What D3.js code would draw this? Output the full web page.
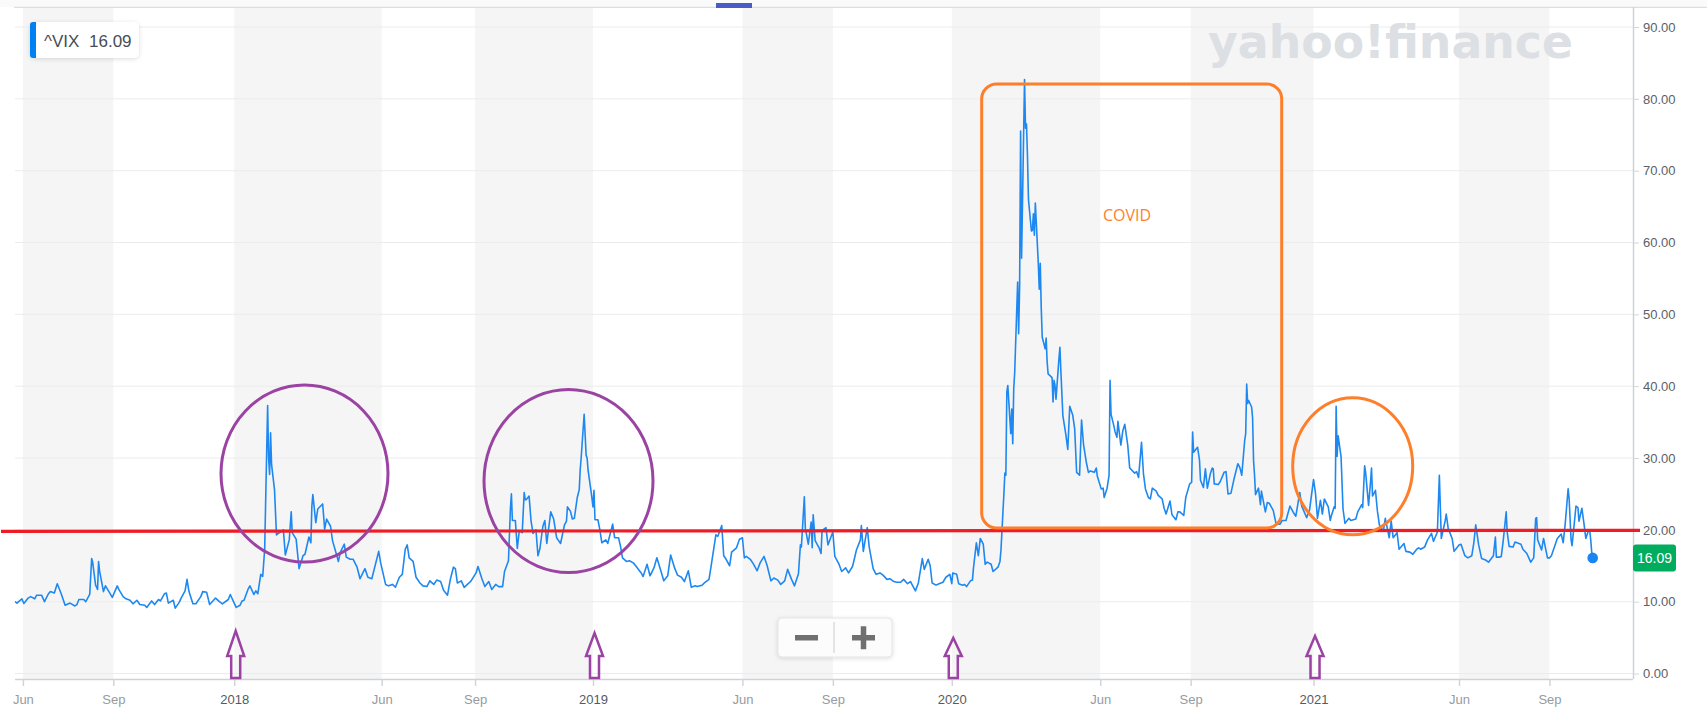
<!DOCTYPE html>
<html>
<head>
<meta charset="utf-8">
<script src="https://cdn.jsdelivr.net/npm/d3@7"></script>
<style>
  body { margin: 0; background: #fff; }
  svg { display: block; font-family: "Liberation Sans", Arial, sans-serif; }
</style>
</head>
<body>
<div id="chart"></div>
<script>
// ^VIX daily closes, one small array per year ("MM-DD", value)
var vix2017 = [["05-24",10.0],["05-26",9.8],["05-31",10.4],["06-02",9.75],["06-06",10.45],["06-09",10.7],["06-13",10.4],["06-15",10.9],["06-20",10.9],["06-23",10.0],["06-27",11.1],["06-29",11.4],["07-03",11.2],["07-06",12.5],["07-10",11.1],["07-14",9.5],["07-19",9.8],["07-24",9.4],["07-26",9.6],["07-28",10.3],["08-02",10.3],["08-04",10.0],["08-08",11.0],["08-10",16.0],["08-11",15.5],["08-14",12.3],["08-16",11.7],["08-17",15.6],["08-18",14.3],["08-22",11.4],["08-24",12.2],["08-28",11.3],["08-31",10.6],["09-05",12.2],["09-07",11.6],["09-11",10.7],["09-14",10.4],["09-18",10.2],["09-21",9.7],["09-25",10.2],["09-28",9.6],["10-03",9.5],["10-05",9.2],["10-10",10.1],["10-13",9.6],["10-17",10.3],["10-19",10.1],["10-23",11.1],["10-25",11.2],["10-27",9.8],["11-01",10.2],["11-03",9.1],["11-07",9.9],["11-09",10.5],["11-13",11.5],["11-15",13.1],["11-17",11.4],["11-21",9.7],["11-24",9.7],["11-29",10.7],["12-01",11.4],["12-05",11.3],["12-08",9.6],["12-12",10.2],["12-14",10.5],["12-18",10.0],["12-21",9.7],["12-27",10.3],["12-29",11.0]];
var vix2018 = [["01-02",9.8],["01-04",9.2],["01-08",9.5],["01-10",10.1],["01-12",10.2],["01-16",11.7],["01-18",12.2],["01-22",11.0],["01-24",11.5],["01-26",11.1],["01-29",13.8],["01-31",13.5],["02-02",17.3],["02-05",37.3],["02-06",30.0],["02-07",27.7],["02-08",33.5],["02-09",29.1],["02-12",25.6],["02-14",19.3],["02-16",19.5],["02-21",20.0],["02-23",16.5],["02-27",18.6],["03-01",22.5],["03-02",19.6],["03-06",18.7],["03-09",14.6],["03-13",16.4],["03-15",16.6],["03-19",19.0],["03-21",18.2],["03-22",23.3],["03-23",24.9],["03-26",21.0],["03-28",22.9],["04-02",23.6],["04-04",20.1],["04-06",21.5],["04-10",20.5],["04-12",18.5],["04-16",16.6],["04-18",15.6],["04-20",16.9],["04-24",18.0],["04-26",16.2],["04-30",15.9],["05-03",15.9],["05-07",14.8],["05-10",13.2],["05-15",14.6],["05-18",13.4],["05-22",13.2],["05-29",17.0],["05-31",15.4],["06-05",12.4],["06-08",12.2],["06-12",12.4],["06-15",12.0],["06-19",13.4],["06-22",13.8],["06-25",17.3],["06-27",17.9],["06-29",16.1],["07-03",15.6],["07-06",13.4],["07-10",12.6],["07-13",12.2],["07-17",12.1],["07-20",12.9],["07-24",12.4],["07-27",13.0],["07-31",12.8],["08-03",11.6],["08-07",10.9],["08-10",13.2],["08-13",14.8],["08-15",14.6],["08-17",12.6],["08-21",12.9],["08-24",12.0],["08-28",12.5],["08-31",12.9],["09-05",14.0],["09-07",14.9],["09-11",13.2],["09-14",12.1],["09-18",12.8],["09-21",11.7],["09-25",12.4],["09-28",12.1],["10-02",12.1],["10-04",14.2],["10-08",15.7],["10-10",23.0],["10-11",25.0],["10-12",21.3],["10-15",21.3],["10-17",17.4],["10-19",19.9],["10-22",19.6],["10-24",25.2],["10-25",24.2],["10-26",24.2],["10-29",24.7],["10-31",21.2],["11-02",19.5],["11-05",20.0],["11-07",16.4],["11-09",17.4],["11-12",20.5],["11-14",21.3],["11-16",18.1],["11-20",22.5],["11-23",21.5],["11-26",18.9],["11-28",18.5],["11-30",18.1],["12-04",20.7],["12-06",21.2],["12-07",23.2],["12-10",22.6],["12-12",21.5],["12-14",21.6],["12-17",24.5],["12-19",25.6],["12-20",28.4],["12-21",30.1],["12-24",36.1],["12-26",30.4],["12-27",30.0],["12-28",28.3],["12-31",25.4]];
var vix2019 = [["01-02",23.2],["01-03",25.5],["01-04",21.4],["01-07",21.4],["01-09",20.0],["01-11",18.2],["01-15",18.6],["01-17",18.1],["01-22",20.8],["01-24",18.9],["01-28",18.9],["01-30",17.7],["02-01",16.1],["02-05",15.6],["02-08",15.7],["02-12",15.4],["02-15",14.9],["02-20",14.0],["02-22",13.5],["02-26",15.2],["03-01",13.6],["03-05",14.7],["03-08",16.1],["03-12",14.3],["03-15",12.9],["03-19",13.6],["03-22",16.5],["03-26",14.7],["03-29",13.7],["04-02",13.4],["04-05",12.8],["04-09",14.3],["04-12",12.0],["04-16",12.2],["04-18",12.1],["04-23",12.3],["04-26",12.7],["04-30",13.1],["05-02",14.8],["05-07",19.3],["05-09",19.1],["05-13",20.6],["05-15",16.4],["05-17",16.0],["05-21",15.0],["05-23",16.9],["05-28",17.5],["05-31",18.7],["06-03",18.9],["06-05",16.1],["06-07",16.3],["06-11",15.9],["06-14",15.3],["06-18",14.3],["06-21",15.4],["06-25",16.3],["06-28",15.1],["07-02",12.9],["07-05",13.3],["07-09",13.0],["07-12",12.4],["07-16",12.9],["07-19",14.5],["07-23",13.1],["07-26",12.2],["07-30",13.9],["08-01",17.9],["08-02",17.6],["08-05",24.6],["08-06",20.2],["08-07",19.5],["08-09",18.0],["08-12",21.1],["08-13",17.5],["08-14",22.1],["08-16",18.5],["08-20",17.5],["08-22",16.7],["08-23",19.9],["08-27",20.3],["08-29",17.9],["09-03",19.7],["09-05",16.3],["09-09",15.3],["09-12",14.2],["09-16",14.7],["09-19",14.0],["09-23",14.9],["09-25",16.0],["09-27",17.2],["10-01",18.6],["10-02",20.6],["10-04",17.0],["10-08",20.3],["10-10",17.6],["10-14",14.6],["10-17",13.8],["10-21",14.0],["10-24",13.7],["10-28",13.1],["10-31",13.2],["11-04",12.8],["11-07",12.7],["11-11",12.7],["11-14",13.1],["11-18",12.5],["11-21",12.8],["11-26",11.5],["11-29",12.6],["12-03",16.0],["12-05",14.5],["12-09",15.9],["12-11",15.0],["12-13",12.6],["12-17",12.3],["12-20",12.5],["12-24",12.7],["12-27",13.4],["12-31",13.8]];
var vix2020 = [["01-02",12.5],["01-03",14.0],["01-07",13.8],["01-09",12.5],["01-13",12.3],["01-15",12.4],["01-17",12.1],["01-21",12.9],["01-23",13.0],["01-24",14.6],["01-27",18.2],["01-29",16.4],["01-31",18.8],["02-03",18.0],["02-05",15.2],["02-07",15.5],["02-11",15.2],["02-13",14.2],["02-18",14.8],["02-20",15.6],["02-21",17.1],["02-24",25.0],["02-25",27.9],["02-26",27.6],["02-27",39.2],["02-28",40.1],["03-02",33.4],["03-03",36.8],["03-04",32.0],["03-05",39.6],["03-06",41.9],["03-09",54.5],["03-10",47.3],["03-11",53.9],["03-12",75.5],["03-13",57.8],["03-16",82.7],["03-17",75.9],["03-18",76.5],["03-19",72.0],["03-20",66.0],["03-23",61.6],["03-24",61.7],["03-25",64.0],["03-26",61.0],["03-27",65.5],["03-30",57.1],["03-31",53.5],["04-01",57.1],["04-02",50.9],["04-03",46.8],["04-06",45.2],["04-07",46.7],["04-08",43.4],["04-09",41.7],["04-13",41.2],["04-14",37.8],["04-15",40.8],["04-16",40.1],["04-17",38.2],["04-20",43.8],["04-21",45.4],["04-22",42.0],["04-24",35.9],["04-27",33.3],["04-29",31.2],["05-01",37.2],["05-04",36.0],["05-06",34.1],["05-08",28.0],["05-11",27.6],["05-13",35.3],["05-15",31.9],["05-18",29.3],["05-20",28.0],["05-22",28.2],["05-26",28.0],["05-28",28.6],["05-29",27.5],["06-02",25.7],["06-04",25.8],["06-05",24.5],["06-08",25.8],["06-10",27.6],["06-11",40.8],["06-12",36.1],["06-15",34.4],["06-16",33.7],["06-18",32.9],["06-19",35.1],["06-22",31.8],["06-24",33.8],["06-26",34.7],["06-29",31.8],["07-01",28.6],["07-06",27.9],["07-08",28.1],["07-10",27.3],["07-13",32.2],["07-15",27.8],["07-17",25.7],["07-20",24.5],["07-22",24.3],["07-24",25.8],["07-28",25.4],["07-30",24.8],["08-03",24.3],["08-05",23.0],["08-07",22.2],["08-11",24.0],["08-13",22.1],["08-17",21.4],["08-19",22.5],["08-21",22.5],["08-25",22.0],["08-27",24.5],["08-31",26.4],["09-02",26.6],["09-03",33.6],["09-04",30.8],["09-08",31.5],["09-10",29.7],["09-11",26.9],["09-14",25.9],["09-16",28.5],["09-18",25.8],["09-21",27.8],["09-23",28.6],["09-24",28.5],["09-25",26.4],["09-29",26.3],["10-01",26.7],["10-05",28.0],["10-07",28.1],["10-09",25.0],["10-12",25.1],["10-15",27.0],["10-19",29.2],["10-21",28.7],["10-23",27.6],["10-26",32.5],["10-27",33.4],["10-28",40.3],["10-29",37.6],["10-30",38.0],["11-02",37.1],["11-03",35.6],["11-04",29.6],["11-05",27.6],["11-06",24.9],["11-09",25.8],["11-11",23.5],["11-12",25.4],["11-16",22.5],["11-18",23.8],["11-20",23.7],["11-24",22.7],["11-27",20.8],["12-01",20.8],["12-03",21.3],["12-07",21.3],["12-09",22.3],["12-11",23.3],["12-15",22.3],["12-17",21.9],["12-21",25.2],["12-23",23.3],["12-28",21.7],["12-31",22.8]];
var vix2021 = [["01-04",27.0],["01-06",25.1],["01-08",21.6],["01-11",24.1],["01-13",22.2],["01-15",24.3],["01-19",23.2],["01-21",21.3],["01-22",21.9],["01-25",23.2],["01-26",23.0],["01-27",37.2],["01-28",30.2],["01-29",33.1],["02-01",30.2],["02-03",22.9],["02-05",20.9],["02-09",21.6],["02-11",21.3],["02-16",21.5],["02-18",22.5],["02-22",23.5],["02-23",23.1],["02-25",28.9],["02-26",28.0],["03-01",23.4],["03-03",26.7],["03-04",28.6],["03-05",24.7],["03-08",25.5],["03-10",22.6],["03-12",20.7],["03-16",19.8],["03-18",21.6],["03-22",18.9],["03-24",21.2],["03-26",18.9],["03-30",19.6],["04-01",17.3],["04-06",18.1],["04-08",17.0],["04-12",16.9],["04-15",16.6],["04-19",17.3],["04-21",17.5],["04-23",17.3],["04-27",17.6],["04-30",18.6],["05-04",19.5],["05-06",18.4],["05-10",19.7],["05-12",27.6],["05-13",23.1],["05-14",18.8],["05-18",21.3],["05-19",22.2],["05-21",20.2],["05-25",18.8],["05-27",17.0],["06-01",17.9],["06-03",18.0],["06-07",16.4],["06-10",16.1],["06-14",16.4],["06-16",18.1],["06-18",20.7],["06-21",17.9],["06-24",16.0],["06-28",15.8],["07-01",15.5],["07-06",16.4],["07-08",19.0],["07-09",16.2],["07-12",16.2],["07-14",16.3],["07-16",18.5],["07-19",22.5],["07-20",19.7],["07-22",17.7],["07-26",17.6],["07-28",18.3],["07-30",18.2],["08-03",18.0],["08-05",17.3],["08-09",16.7],["08-11",16.1],["08-13",15.5],["08-16",16.1],["08-18",21.6],["08-19",21.7],["08-20",18.6],["08-24",17.2],["08-26",18.8],["08-30",16.1],["09-01",16.1],["09-03",16.4],["09-07",18.0],["09-09",18.8],["09-13",19.4],["09-15",18.2],["09-17",20.8],["09-20",25.7],["09-21",24.4],["09-23",18.6],["09-24",17.8],["09-28",23.3],["09-30",23.1],["10-01",21.2],["10-04",23.0],["10-06",21.0],["10-08",18.8],["10-11",20.0],["10-12",19.9],["10-13",18.6],["10-14",16.9],["10-15",16.09]];

// x axis ticks (first trading day of the month) and their labels
var tickDates  = ["2017-06-01","2017-09-01","2018-01-02","2018-06-01","2018-09-04","2019-01-02","2019-06-03","2019-09-03","2020-01-02","2020-06-01","2020-09-01","2021-01-04","2021-06-01","2021-09-01"];
var tickLabels = ["Jun","Sep","2018","Jun","Sep","2019","Jun","Sep","2020","Jun","Sep","2021","Jun","Sep"];
var yTicks = [0,10,20,30,40,50,60,70,80,90];
var refLevel = 20;          // red horizontal marker
var arrowDates = ["2018-01-02","2019-01-02","2020-01-02","2021-01-04"];

var width = 1707, height = 725;
var plot = {left: 15, right: 1633, top: 7, bottom: 679};

var parse = d3.timeParse("%Y-%m-%d");
var data = [];
[[2017, vix2017], [2018, vix2018], [2019, vix2019], [2020, vix2020], [2021, vix2021]].forEach(function(y) {
  y[1].forEach(function(d) { data.push({date: parse(y[0] + "-" + d[0]), value: d[1]}); });
});
var last = data[data.length - 1];

var svg = d3.select("#chart").append("svg")
    .attr("width", width)
    .attr("height", height);

var defs = svg.append("defs");
defs.append("filter").attr("id", "shadow").attr("x", "-20%").attr("y", "-30%").attr("width", "140%").attr("height", "170%")
  .append("feDropShadow").attr("dx", 0).attr("dy", 1).attr("stdDeviation", 2)
  .attr("flood-color", "#000").attr("flood-opacity", 0.14);

var x = d3.scaleTime()
    .domain([parse("2017-05-24"), parse("2021-11-25")])
    .range([plot.left, plot.right]);
var y = d3.scaleLinear()
    .domain([0, 90])
    .range([673.5, 27]);

// top strip
svg.append("rect").attr("x", 0).attr("y", 0).attr("width", width).attr("height", plot.top).attr("fill", "#fafafa");
svg.append("line").attr("x1", plot.left - 1).attr("x2", width).attr("y1", plot.top + 0.3).attr("y2", plot.top + 0.3)
  .attr("stroke", "#dedede").attr("stroke-width", 1.2);
svg.append("rect").attr("x", 716).attr("y", 3).attr("width", 36).attr("height", 5).attr("fill", "#4a5bc7");

// alternating period bands
var ticks = tickDates.map(parse);
var bands = [];
for (var i = 0; i + 1 < ticks.length; i += 2) bands.push([ticks[i], ticks[i + 1]]);
svg.append("g").selectAll("rect").data(bands).enter().append("rect")
    .attr("x", function(d) { return x(d[0]); })
    .attr("width", function(d) { return x(d[1]) - x(d[0]); })
    .attr("y", plot.top + 1)
    .attr("height", plot.bottom - plot.top - 1)
    .attr("fill", "#f5f5f5");

// horizontal grid
svg.append("g").selectAll("line").data(yTicks).enter().append("line")
    .attr("x1", plot.left).attr("x2", plot.right)
    .attr("y1", function(d) { return y(d); }).attr("y2", function(d) { return y(d); })
    .attr("stroke", "#ececec").attr("stroke-width", 1);

// yahoo watermark
svg.append("text")
    .attr("x", 1208).attr("y", 58)
    .attr("textLength", 365).attr("lengthAdjust", "spacingAndGlyphs")
    .style("font-family", "'DejaVu Sans', sans-serif")
    .style("font-weight", 900).style("font-size", "47px")
    .attr("fill", "#dcdfe3")
    .text("yahoo!finance");

// x axis
var xAxis = d3.axisBottom(x).tickValues(ticks).tickSize(7).tickFormat(function(d, i) { return tickLabels[i]; });
var gx = svg.append("g").attr("transform", "translate(0," + plot.bottom + ")").call(xAxis);
gx.select(".domain").attr("d", "M" + plot.left + ",0.5H" + plot.right).attr("stroke", "#cfd2d5").attr("stroke-width", 1.5);
gx.selectAll(".tick line").attr("stroke", "#d2d5d8").attr("stroke-width", 1.5);
gx.selectAll(".tick text")
    .attr("y", 20.5).attr("dy", "0.35em")
    .style("font-size", "13px")
    .style("font-family", "'Liberation Sans', Arial, sans-serif")
    .attr("fill", function(d, i) { return /^\d/.test(tickLabels[i]) ? "#555b62" : "#959ba1"; });

// y axis on the right
var yAxis = d3.axisRight(y).tickValues(yTicks).tickSize(6).tickPadding(4).tickFormat(d3.format(".2f"));
var gy = svg.append("g").attr("transform", "translate(" + plot.right + ",0)").call(yAxis);
gy.select(".domain").attr("d", "M0.5," + plot.top + "V" + plot.bottom).attr("stroke", "#cfd2d5").attr("stroke-width", 1.5);
gy.selectAll(".tick line").attr("stroke", "#d2d5d8");
gy.selectAll(".tick text")
    .style("font-size", "13px")
    .style("font-family", "'Liberation Sans', Arial, sans-serif")
    .attr("fill", "#5b6168");

// VIX line
var line = d3.line()
    .x(function(d) { return x(d.date); })
    .y(function(d) { return y(d.value); });
svg.append("path").datum(data)
    .attr("d", line)
    .attr("fill", "none")
    .attr("stroke", "#1e88f0")
    .attr("stroke-width", 1.6)
    .attr("stroke-linejoin", "round");

svg.append("circle")
    .attr("cx", x(last.date)).attr("cy", y(last.value)).attr("r", 5.3)
    .attr("fill", "#1a84f0");

// last value tag
var tag = svg.append("g").attr("transform", "translate(" + plot.right + "," + y(last.value) + ")");
tag.append("rect").attr("x", 0).attr("y", -13.5).attr("width", 43).attr("height", 27).attr("rx", 3).attr("fill", "#00ad5f");
tag.append("text").attr("x", 21.5).attr("y", 5).attr("text-anchor", "middle")
    .style("font-size", "14px").attr("fill", "#fff").text(last.value.toFixed(2));

// legend chip
var chip = svg.append("g").attr("transform", "translate(30,22)");
chip.append("rect").attr("width", 109).attr("height", 36).attr("rx", 5).attr("fill", "#fff").attr("filter", "url(#shadow)");
chip.append("path").attr("d", "M6,0H3A3,3 0 0 0 0,3V33A3,3 0 0 0 3,36H6Z").attr("fill", "#0081f2");
chip.append("text").attr("x", 14).attr("y", 24.5).style("font-size", "17px").attr("fill", "#464e56").text("^VIX");
chip.append("text").attr("x", 59).attr("y", 24.5).style("font-size", "17px").attr("fill", "#464e56").text(last.value.toFixed(2));

// zoom buttons
var zb = svg.append("g").attr("transform", "translate(778,618)");
zb.append("rect").attr("width", 114).attr("height", 39).attr("rx", 4).attr("fill", "#fcfcfc")
    .attr("stroke", "#e4e4e4").attr("filter", "url(#shadow)");
zb.append("line").attr("x1", 56).attr("x2", 56).attr("y1", 4).attr("y2", 35).attr("stroke", "#dcdcdc").attr("stroke-width", 1.5);
zb.append("rect").attr("x", 17).attr("y", 17).attr("width", 23).attr("height", 5.5).attr("fill", "#707070");
zb.append("rect").attr("x", 74).attr("y", 17).attr("width", 23).attr("height", 5.5).attr("fill", "#707070");
zb.append("rect").attr("x", 82.75).attr("y", 8.25).attr("width", 5.5).attr("height", 23).attr("fill", "#707070");

// annotations
var purple = "#9b43a3", orange = "#fe7f2b";
svg.append("line")
    .attr("x1", 1).attr("x2", 1640)
    .attr("y1", y(refLevel) + 1.5).attr("y2", y(refLevel) + 0.5)
    .attr("stroke", "#ee1c25").attr("stroke-width", 3.2);

var ellipses = [
  {cx: 304.5, cy: 473.5, rx: 83.5, ry: 88.5, c: purple},
  {cx: 568.5, cy: 481, rx: 84.5, ry: 91.5, c: purple},
  {cx: 1352.7, cy: 466.3, rx: 60, ry: 68.5, c: orange}
];
svg.append("g").selectAll("ellipse").data(ellipses).enter().append("ellipse")
    .attr("cx", function(d) { return d.cx; }).attr("cy", function(d) { return d.cy; })
    .attr("rx", function(d) { return d.rx; }).attr("ry", function(d) { return d.ry; })
    .attr("fill", "none").attr("stroke", function(d) { return d.c; }).attr("stroke-width", 3);

svg.append("rect")
    .attr("x", 981.7).attr("y", 84).attr("width", 300).attr("height", 444).attr("rx", 15)
    .attr("fill", "none").attr("stroke", orange).attr("stroke-width", 3);
svg.append("text")
    .attr("x", 1103).attr("y", 220.5)
    .style("font-family", "'Open Sans', sans-serif").style("font-size", "16px")
    .attr("fill", orange).text("COVID");

// hollow up arrows under each new year
var tipY = [631, 633, 638, 636];
svg.append("g").selectAll("path").data(arrowDates).enter().append("path")
    .attr("d", function(d, i) {
      var cx = x(parse(d)) + 1.5, t = tipY[i];
      return "M" + cx + "," + t + "L" + (cx + 8.5) + ",656L" + (cx + 4.5) + ",656L" + (cx + 4.5) + ",678L" +
             (cx - 4.5) + ",678L" + (cx - 4.5) + ",656L" + (cx - 8.5) + ",656Z";
    })
    .attr("fill", "none").attr("stroke", purple).attr("stroke-width", 2.5).attr("stroke-linejoin", "miter");
</script>
</body>
</html>
